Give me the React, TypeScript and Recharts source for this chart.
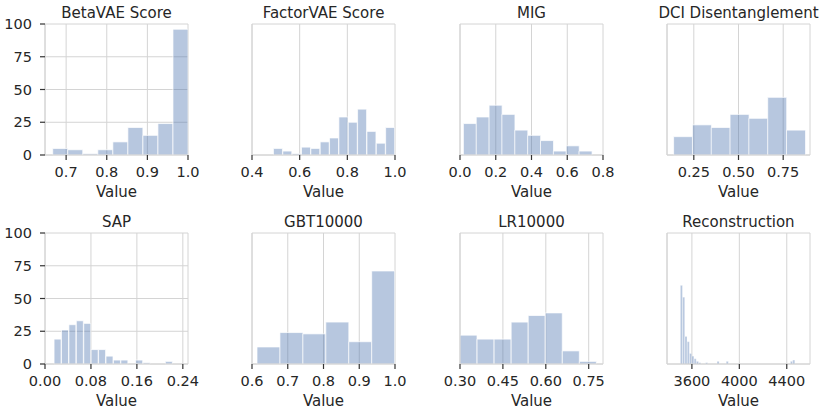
import { BarChart, Bar, XAxis, YAxis, CartesianGrid } from "recharts";

// shared count axis
const countTicks = [0, 25, 50, 75, 100];

// histogram counts; edges = [first bin start, last bin end]
const betaVaeCounts = [5, 4, 1, 4, 10, 21, 15, 24, 96];
const betaVaeEdges = [0.667, 1.0];
const betaVaeTicks = [0.7, 0.8, 0.9, 1.0];

const factorVaeCounts = [5, 3, 1, 6, 5, 10, 13, 29, 25, 35, 18, 9, 21];
const factorVaeEdges = [0.49, 1.0];
const factorVaeTicks = [0.4, 0.6, 0.8, 1.0];

const migCounts = [24, 29, 38, 31, 19, 15, 11, 3, 7, 3];
const migEdges = [0.019, 0.738];
const migTicks = [0, 0.2, 0.4, 0.6, 0.8];

const dciCounts = [14, 23, 21, 31, 28, 44, 19];
const dciEdges = [0.137, 0.874];
const dciTicks = [0.25, 0.5, 0.75];

const sapCounts = [19, 26, 30, 33, 31, 11, 11, 6, 3, 3, 0, 3, 1, 0, 0, 2];
const sapEdges = [0.0158, 0.2225];
const sapTicks = [0, 0.08, 0.16, 0.24];

const gbtCounts = [13, 24, 23, 32, 17, 71];
const gbtEdges = [0.614, 0.999];
const gbtTicks = [0.6, 0.7, 0.8, 0.9, 1.0];

const lrCounts = [22, 19, 19, 32, 37, 39, 10, 2];
const lrEdges = [0.3, 0.777];
const lrTicks = [0.3, 0.45, 0.6, 0.75];

const reconCounts = [
  60, 51, 21, 17, 8, 6, 4, 2, 1, 0,
  0, 1, 0, 0, 0, 0, 2, 0, 0, 0,
  2, 0, 0, 0, 0, 0, 0, 0, 0, 0,
  0, 0, 0, 0, 0, 0, 0, 0, 0, 0,
  0, 0, 0, 0, 0, 0, 0, 0, 2, 3,
];
const reconEdges = [3503, 4470];
const reconTicks = [3600, 4000, 4400];

const TEXT = "#262626";
const GRID = "#d4d4d4";

type PanelProps = {
  title: string;
  counts: number[];
  edges: number[];
  domain: [number, number];
  ticks: number[];
  digits: number;
  left: number;
  top: number;
  showCounts: boolean;
  edgeWidth?: number;
};

const toBins = (edges: number[], counts: number[]) => {
  const w = (edges[1] - edges[0]) / counts.length;
  return counts.map((count, i) => ({ x: edges[0] + w * (i + 0.5), count }));
};

function Panel({ title, counts, edges, domain, ticks, digits, left, top, showCounts, edgeWidth = 1 }: PanelProps) {
  const data = toBins(edges, counts);

  return (
    <>
      <div
        style={{
          position: "absolute",
          left: left - 10,
          top: top - 18,
          width: 163,
          textAlign: "center",
          fontSize: 15,
          lineHeight: "15px",
          color: TEXT,
          whiteSpace: "nowrap",
        }}
      >
        {title}
      </div>

      <div style={{ position: "absolute", left: left - 45, top: top - 24 }}>
        <BarChart
          width={200}
          height={200}
          data={data}
          margin={{ top: 24, right: 12, bottom: 0, left: 5 }}
          barCategoryGap={0}
          barGap={0}
        >
          <CartesianGrid stroke={GRID} strokeWidth={1} />

          <XAxis
            dataKey="x"
            type="number"
            domain={domain}
            ticks={ticks}
            interval={0}
            allowDataOverflow
            height={45}
            axisLine={{ stroke: GRID }}
            tickLine={{ stroke: "#333", strokeWidth: 1.2 }}
            tickSize={5}
            tickMargin={7}
            tick={{ fill: TEXT, fontSize: 14.5 }}
            tickFormatter={(v: number) => v.toFixed(digits)}
            label={{ value: "Value", position: "insideBottom", offset: 3, fill: TEXT, fontSize: 15 }}
          />

          <YAxis
            type="number"
            domain={[0, 100]}
            ticks={countTicks}
            interval={0}
            width={40}
            axisLine={{ stroke: GRID }}
            tickLine={{ stroke: "#333", strokeWidth: 1.2 }}
            tickSize={5}
            tickMargin={8}
            tick={showCounts ? { fill: TEXT, fontSize: 14.5 } : false}
          />

          <Bar
            dataKey="count"
            fill="#4c72b0"
            fillOpacity={0.4}
            stroke="#ffffff"
            strokeOpacity={0.7}
            strokeWidth={edgeWidth}
            isAnimationActive={false}
          />
        </BarChart>
      </div>
    </>
  );
}

export default function App() {
  return (
    <div
      style={{
        position: "absolute",
        left: 0,
        top: 0,
        width: 830,
        height: 416,
        background: "#fff",
        fontFamily: "'DejaVu Sans', sans-serif",
      }}
    >
      <Panel title="BetaVAE Score" counts={betaVaeCounts} edges={betaVaeEdges} domain={[0.648, 1.0]} ticks={betaVaeTicks} digits={1} left={45} top={24} showCounts />
      <Panel title="FactorVAE Score" counts={factorVaeCounts} edges={factorVaeEdges} domain={[0.4, 1.0]} ticks={factorVaeTicks} digits={1} left={252} top={24} showCounts={false} />
      <Panel title="MIG" counts={migCounts} edges={migEdges} domain={[0, 0.8]} ticks={migTicks} digits={1} left={460} top={24} showCounts={false} />
      <Panel title="DCI Disentanglement" counts={dciCounts} edges={dciEdges} domain={[0.1, 0.9]} ticks={dciTicks} digits={2} left={667} top={24} showCounts={false} />

      <Panel title="SAP" counts={sapCounts} edges={sapEdges} domain={[0, 0.249]} ticks={sapTicks} digits={2} left={45} top={233} showCounts />
      <Panel title="GBT10000" counts={gbtCounts} edges={gbtEdges} domain={[0.6, 1.0]} ticks={gbtTicks} digits={1} left={252} top={233} showCounts={false} />
      <Panel title="LR10000" counts={lrCounts} edges={lrEdges} domain={[0.3, 0.8]} ticks={lrTicks} digits={2} left={460} top={233} showCounts={false} />
      <Panel title="Reconstruction" counts={reconCounts} edges={reconEdges} domain={[3390, 4596]} ticks={reconTicks} digits={0} left={667} top={233} showCounts={false} edgeWidth={0.4} />
    </div>
  );
}
